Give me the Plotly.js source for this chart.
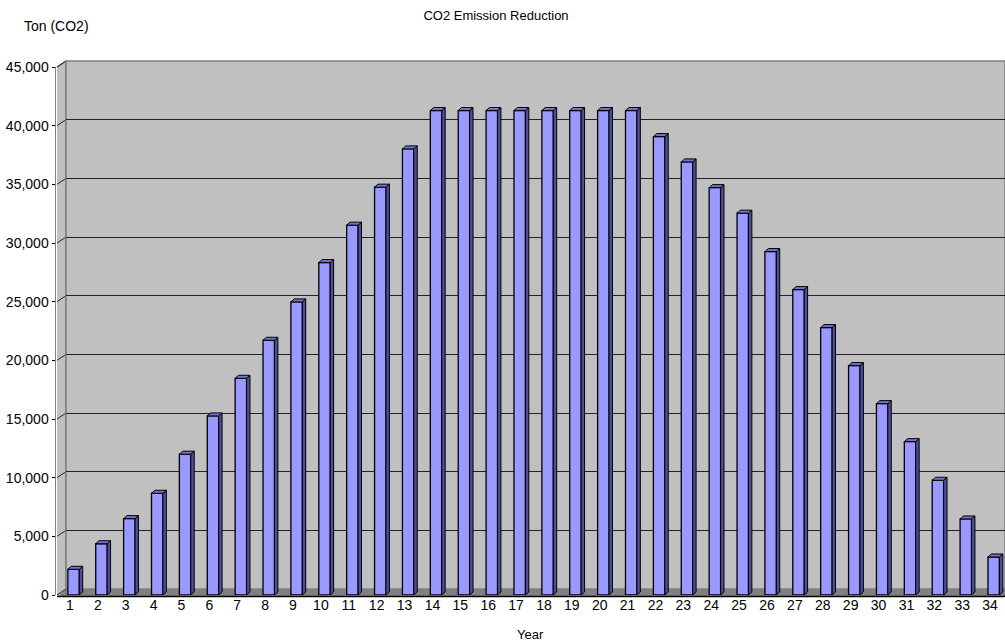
<!DOCTYPE html>
<html>
<head>
<meta charset="utf-8">
<script src="https://cdn.plot.ly/plotly-3.0.1.min.js"></script>
<style>html,body{margin:0;padding:0;background:#fff;}#chart{width:1005px;height:642px;}</style>
</head>
<body>
<div id="chart"></div>
<script>
// ---- data ----
const years = [1,2,3,4,5,6,7,8,9,10,11,12,13,14,15,16,17,18,19,20,21,22,23,24,25,26,27,28,29,30,31,32,33,34];
const reduction = [2190,4370,6510,8670,12000,15260,18470,21710,24980,28330,31520,34760,38020,
  41290,41290,41290,41290,41290,41290,41290,41290,
  39070,36910,34720,32540,29270,26030,22790,19550,16310,13070,9780,6480,3240];
const yTicks = [0,5000,10000,15000,20000,25000,30000,35000,40000,45000];
const yTickText = ["0","5,000","10,000","15,000","20,000","25,000","30,000","35,000","40,000","45,000"];
const titleText = "CO2 Emission Reduction";
const yTitle = "Ton (CO2)";
const xTitle = "Year";

// ---- geometry (pixels) ----
const W = 1005, H = 642;
const PX = x => x / W;
const PY = y => 1 - y / H;
const FRONT_L = 56, FRONT_R = 1004, FRONT_B = 595, FRONT_T = 67;
const BACK_L = 66, BACK_B = 589, BACK_T = 61;
const YMAX = 45000;

// depth offsets in data units
const pxPerX = (FRONT_R - FRONT_L) / 34;
const pxPerY = (FRONT_B - FRONT_T) / YMAX;
const DX = 3.4 / pxPerX, DY = 3 / pxPerY;
const BW = 0.41, BOFF = -0.075;

// side and top faces
const sideX = [], sideY = [], topX = [], topY = [];
years.forEach((yr, i) => {
  const v = reduction[i];
  const xl = yr + BOFF, xr = xl + BW;
  sideX.push(xr, xr, xr + DX, xr + DX, xr, null);
  sideY.push(0, v, v + DY, DY, 0, null);
  topX.push(xl, xr, xr + DX, xl + DX, xl, null);
  topY.push(v, v, v + DY, v + DY, v, null);
});

const traces = [
  {x:[1], y:[0], xaxis:'x', yaxis:'y', type:'scatter', mode:'markers', marker:{opacity:0}, hoverinfo:'skip', showlegend:false},
  {x: years, y: reduction, xaxis:'x2', yaxis:'y2', type:'bar', width: BW, offset: BOFF,
   marker:{color:'#9999FF', line:{color:'#000', width:1.3}}, hoverinfo:'skip', showlegend:false},
  {x: sideX, y: sideY, xaxis:'x2', yaxis:'y2', type:'scatter', mode:'lines', fill:'toself',
   fillcolor:'#4D4D9A', line:{color:'#000', width:1}, hoverinfo:'skip', showlegend:false},
  {x: topX, y: topY, xaxis:'x2', yaxis:'y2', type:'scatter', mode:'lines', fill:'toself',
   fillcolor:'#7373CC', line:{color:'#000', width:1}, hoverinfo:'skip', showlegend:false}
];

const shapes = [
  {type:'rect', xref:'paper', yref:'paper', x0:PX(BACK_L), x1:PX(W), y0:PY(BACK_B), y1:PY(BACK_T),
   fillcolor:'#C0C0C0', line:{color:'#808080', width:1.5}, layer:'below'},
  {type:'path', xref:'paper', yref:'paper', layer:'below', fillcolor:'#C0C0C0', line:{width:0},
   path:`M${PX(57)},${PY(FRONT_T)} L${PX(BACK_L)},${PY(BACK_T)} L${PX(BACK_L)},${PY(BACK_B)} L${PX(57)},${PY(597)} Z`},
  {type:'path', xref:'paper', yref:'paper', layer:'below', fillcolor:'#808080', line:{width:0},
   path:`M${PX(57)},${PY(597)} L${PX(BACK_L)},${PY(BACK_B)} L${PX(W)},${PY(BACK_B)} L${PX(W)},${PY(597)} Z`},
  {type:'line', xref:'paper', yref:'paper', x0:PX(57), x1:PX(W), y0:PY(596.5), y1:PY(596.5),
   line:{color:'#000', width:1.5}, layer:'above'},
  {type:'line', xref:'paper', yref:'paper', x0:PX(57), x1:PX(BACK_L), y0:PY(FRONT_T), y1:PY(BACK_T),
   line:{color:'#808080', width:1.5}, layer:'below'}
];
yTicks.forEach(t => {
  const yf = FRONT_B - t * pxPerY, yb = BACK_B - t * pxPerY;
  shapes.push({type:'line', xref:'paper', yref:'paper', x0:PX(57), x1:PX(BACK_L), y0:PY(yf), y1:PY(yb),
    line:{color:'#222', width:1}, layer:'below'});
});

const layout = {
  width: W, height: H,
  margin: {l:0, r:0, t:0, b:0},
  paper_bgcolor: '#fff', plot_bgcolor: 'rgba(0,0,0,0)',
  showlegend: false,
  font: {family: 'Liberation Sans, Arial, sans-serif', color: '#000', size: 14},
  title: {text: titleText, x: PX(496), xanchor: 'center', y: PY(15), yanchor: 'middle',
          font: {size: 13, color: '#000'}},
  xaxis: {domain: [PX(BACK_L), 1], range: [0.5, 34.5], anchor: 'y', showgrid: false, showticklabels: false,
          zeroline: false, showline: false, ticks: ''},
  yaxis: {domain: [PY(BACK_B), PY(BACK_T)], range: [0, YMAX], anchor: 'x', tickvals: yTicks,
          showgrid: true, gridcolor: '#222', gridwidth: 1, showticklabels: false, zeroline: false,
          showline: true, linecolor: '#808080', linewidth: 1.5, ticks: ''},
  xaxis2: {domain: [PX(FRONT_L), PX(FRONT_R)], range: [0.5, 34.5], anchor: 'y2', tickvals: years,
           ticktext: years.map(String), showgrid: false, zeroline: false, showline: false, ticks: '',
           tickfont: {size: 14}, automargin: false},
  yaxis2: {domain: [PY(FRONT_B), PY(FRONT_T)], range: [0, YMAX], anchor: 'x2', tickvals: yTicks,
           ticktext: yTickText, showgrid: false, zeroline: false, showline: true, linecolor: '#808080',
           linewidth: 1.5, ticks: 'outside', ticklen: 3, tickcolor: '#000', tickfont: {size: 14},
           automargin: false},
  annotations: [
    {text: yTitle, xref:'paper', yref:'paper', x: PX(22), y: PY(26), xanchor:'left', yanchor:'middle',
     showarrow:false, font:{size:14}},
    {text: xTitle, xref:'paper', yref:'paper', x: PX(530), y: PY(634), xanchor:'center', yanchor:'middle',
     showarrow:false, font:{size:13}}
  ],
  shapes: shapes
};

Plotly.newPlot('chart', traces, layout, {displayModeBar: false, staticPlot: true});
</script>
</body>
</html>
